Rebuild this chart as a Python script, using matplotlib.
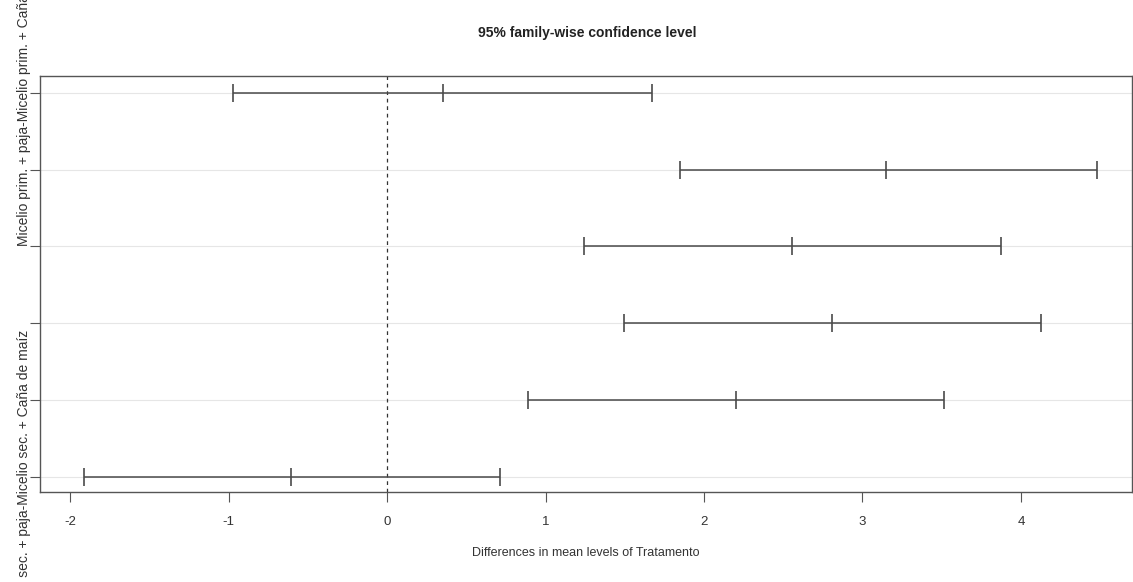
import numpy as np
import matplotlib
matplotlib.use('Agg')
import matplotlib.pyplot as plt

plt.rcParams['font.family'] = ['Liberation Sans', 'DejaVu Sans']

# comparaciones de Tukey (de arriba hacia abajo)
comparaciones = [
    'Micelio prim. + paja-Micelio prim. + Caña de maíz',
    'Micelio sec. + Caña de maíz-Micelio prim. + Caña de maíz',
    'Micelio sec. + paja-Micelio prim. + Caña de maíz',
    'Micelio sec. + Caña de maíz-Micelio prim. + paja',
    'Micelio sec. + paja-Micelio prim. + paja',
    'Micelio sec. + paja-Micelio sec. + Caña de maíz',
]
diff = [0.355, 3.15, 2.557, 2.81, 2.202, -0.606]
lwr = [-0.970, 1.85, 1.243, 1.495, 0.892, -1.914]
upr = [1.674, 4.48, 3.874, 4.126, 3.516, 0.710]
etiquetas_visibles = [0, 5]  # R oculta las que se solapan
xticks = [-2, -1, 0, 1, 2, 3, 4]

n = len(comparaciones)
yvals = np.arange(n, 0, -1)

fig = plt.figure(figsize=(11.33, 5.82), dpi=100)
ax = fig.add_axes([0.0353, 0.1546, 0.9637, 0.7148])

for y in yvals:
    ax.axhline(y, color='#e6e6e6', lw=0.8, zorder=0)
ax.axvline(0, color='#333333', lw=0.9, ls=(0, (3, 3)), zorder=1)

col = '#4a4a4a'
ax.hlines(yvals, lwr, upr, color=col, lw=1.1, zorder=2)
for vals in (lwr, diff, upr):
    ax.plot(vals, yvals, ls='none', marker='|', ms=13, mew=1.2, color=col, zorder=3)

ax.set_xlim(-2.19, 4.70)
ax.set_ylim(0.8, 6.22)
ax.set_xticks(xticks)
ax.set_xticklabels([str(t) for t in xticks], fontsize=9.5, color='#333333')
ax.set_yticks(yvals)
ax.set_yticklabels([comparaciones[i] if i in etiquetas_visibles else '' for i in range(n)],
                   rotation=90, va='center', ha='center', fontsize=10, color='#333333')
ax.tick_params(axis='y', length=7, pad=4.5, color='#555555')
ax.tick_params(axis='x', length=7, pad=10, color='#555555')
for s in ax.spines.values():
    s.set_color('#555555')
    s.set_linewidth(1.0)

ax.set_xlabel('Differences in mean levels of Tratamento', fontsize=9, color='#333333', labelpad=14)
fig.text(0.518, 0.943, '95% family-wise confidence level', ha='center', va='center',
         fontsize=10, fontweight='bold', color='#222222')

fig.savefig('out.png', dpi=100)
